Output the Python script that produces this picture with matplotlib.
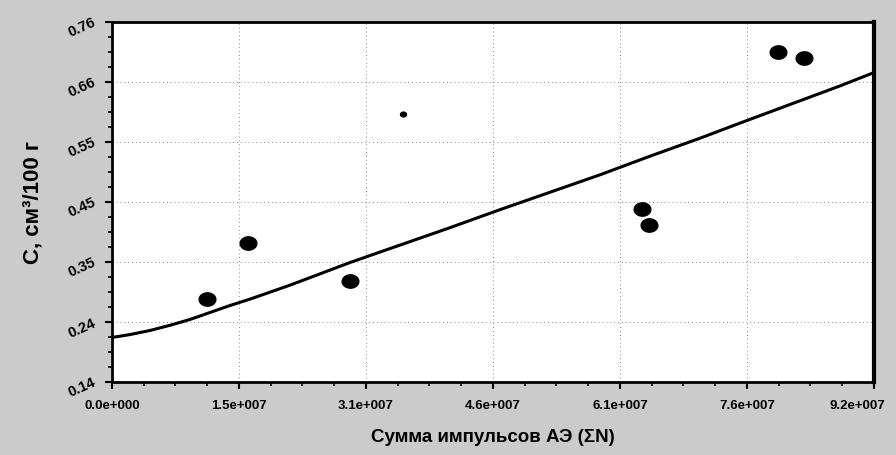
import numpy as np
import matplotlib

matplotlib.use("Agg")
import matplotlib.pyplot as plt  # noqa: E402
from matplotlib.path import Path  # noqa: E402
from matplotlib.ticker import AutoMinorLocator  # noqa: E402
from matplotlib.transforms import ScaledTranslation  # noqa: E402

# measured points: sum of AE pulses vs concentration
pulses = [1.14e7, 1.63e7, 2.86e7, 6.36e7, 6.45e7, 8.00e7, 8.31e7]
conc = [0.284, 0.380, 0.315, 0.439, 0.410, 0.708, 0.698]
# one small outlier point
outlier_x = [3.49e7]
outlier_y = [0.602]

# fitted curve
fit_x = [0.0, 2.16e6, 4.56e6, 6.97e6, 9.37e6, 1.177e7, 1.417e7, 1.657e7,
         1.897e7, 2.137e7, 2.378e7, 2.858e7, 3.458e7, 4.059e7, 4.659e7,
         5.260e7, 5.860e7, 6.460e7, 7.061e7, 7.541e7, 8.141e7, 8.742e7, 9.15e7]
fit_y = [0.217, 0.222, 0.229, 0.238, 0.248, 0.260, 0.272, 0.283,
         0.295, 0.307, 0.320, 0.346, 0.376, 0.406, 0.437,
         0.467, 0.497, 0.529, 0.560, 0.586, 0.618, 0.650, 0.673]

x_labels = ["0.0e+000", "1.5e+007", "3.1e+007", "4.6e+007",
            "6.1e+007", "7.6e+007", "9.2e+007"]
y_labels = ["0.14", "0.24", "0.35", "0.45", "0.55", "0.66", "0.76"]

X_MAX = 9.15e7
Y_MIN, Y_MAX = 0.14, 0.76
BG = "#cbcbcb"
FONT = ["Liberation Sans", "DejaVu Sans"]

plt.rcParams.update({"font.family": FONT, "font.weight": "bold"})

# slightly flattened oval marker like the scanned dots
t = np.linspace(0, 2 * np.pi, 60)
oval = Path(np.column_stack([np.cos(t), 0.8 * np.sin(t)]), closed=True)

fig = plt.figure(figsize=(8.96, 4.55), dpi=100, facecolor=BG)
ax = fig.add_axes([0.125, 0.160, 0.8504, 0.7916])
ax.set_facecolor("white")

ax.plot(fit_x, fit_y, color="black", lw=2.2, zorder=3, solid_joinstyle="round")
ax.plot(pulses, conc, ls="none", marker=oval, ms=12, color="black", zorder=4)
ax.plot(outlier_x, outlier_y, ls="none", marker=oval, ms=4.3, color="black", zorder=4)

ax.set_xlim(0, X_MAX)
ax.set_ylim(Y_MIN, Y_MAX)
ax.set_xticks(np.linspace(0, X_MAX, len(x_labels)))
ax.set_xticklabels(x_labels, fontsize=9.5, fontweight="bold")
ax.set_yticks(np.linspace(Y_MIN, Y_MAX, len(y_labels)))
ax.set_yticklabels(y_labels, fontsize=10.5, fontweight="bold", rotation=24,
                   ha="right", va="center", rotation_mode="anchor")
ax.xaxis.set_minor_locator(AutoMinorLocator(4))
ax.yaxis.set_minor_locator(AutoMinorLocator(4))
ax.tick_params(which="major", direction="out", length=5, width=1.5, colors="black")
ax.tick_params(which="minor", direction="out", length=3, width=1.2, colors="black")
ax.tick_params(axis="x", pad=8)
ax.tick_params(axis="y", pad=7)

# the last x label sits a bit left of its tick, as in the scan
last = ax.get_xticklabels()[-1]
last.set_transform(last.get_transform() + ScaledTranslation(-0.17, 0, fig.dpi_scale_trans))

for side in ax.spines.values():
    side.set_linewidth(2)
    side.set_color("black")
ax.spines["right"].set_linewidth(3)

ax.grid(which="major", color="#8a8a8a", lw=0.7, ls=(0, (1, 3)))
ax.set_axisbelow(True)

ax.set_xlabel("Сумма импульсов АЭ (ΣN)", fontsize=13.5, fontweight="bold", labelpad=12)
ax.set_ylabel("C, см³/100 г", fontsize=16, fontweight="bold", labelpad=16)

fig.savefig("out.png", dpi=100, facecolor=BG)
